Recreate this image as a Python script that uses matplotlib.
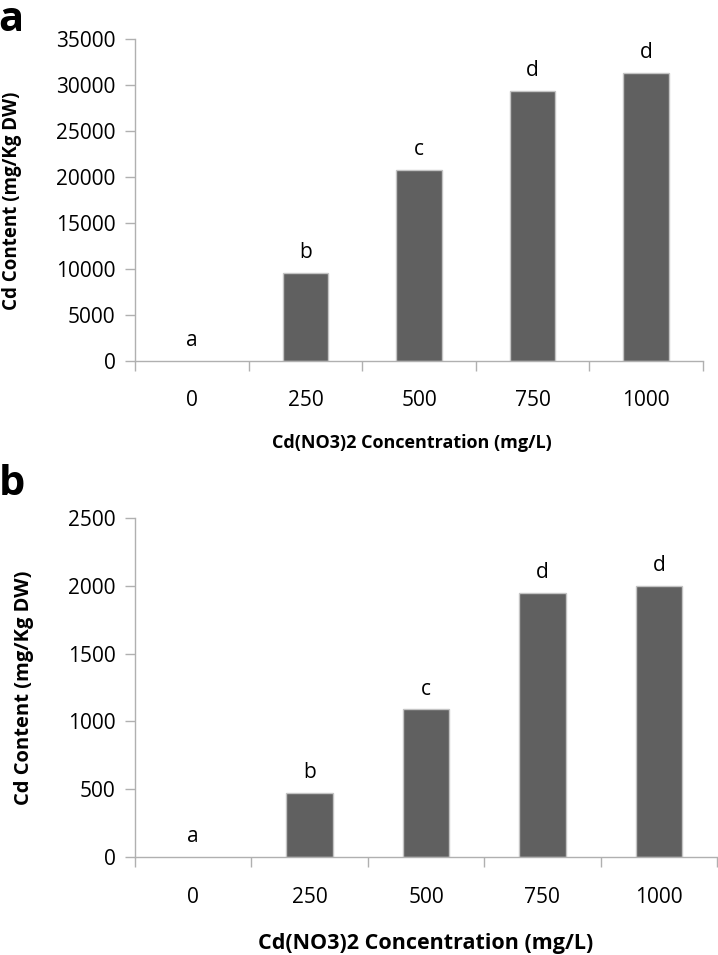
import matplotlib
matplotlib.use("Agg")
import matplotlib.pyplot as plt
from matplotlib.ticker import FixedLocator, NullFormatter

plt.rcParams["font.family"] = ["Open Sans", "DejaVu Sans"]

concentrations = ["0", "250", "500", "750", "1000"]
cd_shoot = [0, 9600, 20800, 29400, 31300]
cd_root = [0, 470, 1090, 1950, 2000]
letters_a = ["a", "b", "c", "d", "d"]
letters_b = ["a", "b", "c", "d", "d"]

W, H = 718, 955
BAR_COLOR = "#606060"
EDGE_COLOR = "#c4c4c4"
AXIS_COLOR = "#b0b0b0"


def px_box(left, top, right, bottom):
    return [left / W, 1 - bottom / H, (right - left) / W, (bottom - top) / H]


def draw_panel(ax, values, letters, ymax, ystep, xpad):
    xs = list(range(len(values)))
    ax.bar(xs, values, width=0.4, color=BAR_COLOR,
           edgecolor=[EDGE_COLOR if v > 0 else "none" for v in values],
           linewidth=1.0, zorder=2)
    for x, v, lab in zip(xs, values, letters):
        ax.annotate(lab, (x, v), xytext=(0, 10.5), textcoords="offset points",
                    ha="center", va="baseline", fontsize=15)
    ax.set_xlim(-0.5, len(values) - 0.5)
    ax.set_ylim(0, ymax)
    ax.set_yticks(range(0, ymax + 1, ystep))
    ax.xaxis.set_major_locator(FixedLocator([x - 0.5 for x in range(len(values) + 1)]))
    ax.xaxis.set_major_formatter(NullFormatter())
    ax.xaxis.set_minor_locator(FixedLocator(xs))
    ax.set_xticklabels(concentrations, minor=True)
    ax.tick_params(axis="x", which="major", direction="out", length=7,
                   color=AXIS_COLOR, width=1)
    ax.tick_params(axis="x", which="minor", length=0, pad=xpad, labelsize=15)
    ax.tick_params(axis="y", direction="out", length=7, color=AXIS_COLOR,
                   width=1, pad=7, labelsize=15)
    for s in ["top", "right"]:
        ax.spines[s].set_visible(False)
    for s in ["left", "bottom"]:
        ax.spines[s].set_color(AXIS_COLOR)
        ax.spines[s].set_linewidth(1)


fig = plt.figure(figsize=(W / 100, H / 100), dpi=100)

ax1 = fig.add_axes(px_box(135, 39, 703, 361))
draw_panel(ax1, cd_shoot, letters_a, 35000, 5000, 21)
ax2 = fig.add_axes(px_box(135, 518.3, 717, 856.7))
draw_panel(ax2, cd_root, letters_b, 2500, 500, 22)

# axis titles, placed in pixel positions
fig.text(412 / W, 1 - 443 / H, "Cd(NO3)2 Concentration (mg/L)", ha="center",
         va="center", fontsize=13, fontweight="bold")
fig.text(426 / W, 1 - 943 / H, "Cd(NO3)2 Concentration (mg/L)", ha="center",
         va="center", fontsize=15.5, fontweight="bold")
fig.text(12.5 / W, 1 - 201 / H, "Cd Content (mg/Kg DW)", rotation=90,
         ha="center", va="center", fontsize=13.5, fontweight="bold")
fig.text(24 / W, 1 - 688 / H, "Cd Content (mg/Kg DW)", rotation=90,
         ha="center", va="center", fontsize=14.5, fontweight="bold")

# panel letters
fig.text(-0.002, 1 - 0 / H, "a", ha="left", va="top", fontsize=30, fontweight="bold")
fig.text(-0.002, 1 - 464 / H, "b", ha="left", va="top", fontsize=30, fontweight="bold")

fig.savefig("out.png", dpi=100, facecolor="white")
